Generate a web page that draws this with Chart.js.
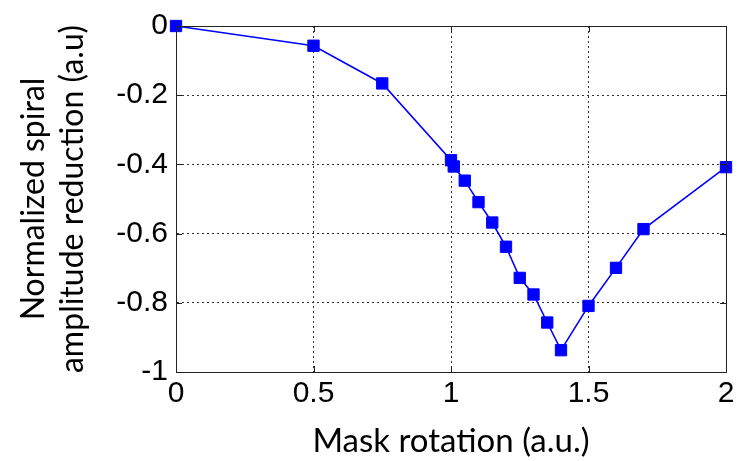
<!DOCTYPE html>
<html>
<head>
<meta charset="utf-8">
<script src="https://cdn.jsdelivr.net/npm/chart.js@4.4.1/dist/chart.umd.min.js"></script>
<style>
  html, body { margin: 0; padding: 0; background: #fff; }
  #wrap { width: 748px; height: 461px; }
</style>
</head>
<body>
<div id="wrap"><canvas id="myChart"></canvas></div>
<script>
// mask rotation (a.u.) and the normalized amplitude reduction at each step
const rotation = [0, 0.5, 0.75, 1.0, 1.01, 1.05, 1.1, 1.15, 1.2, 1.25, 1.3, 1.35, 1.4, 1.5, 1.6, 1.7, 2.0];
const reduction = [0, -0.057, -0.166, -0.388, -0.406, -0.447, -0.509, -0.568, -0.638, -0.728, -0.776, -0.857, -0.937, -0.809, -0.699, -0.587, -0.408];

const xTicks = [0, 0.5, 1, 1.5, 2];
const yTicks = [0, -0.2, -0.4, -0.6, -0.8, -1];

const tickFont = { family: "'Liberation Sans', Arial, sans-serif", size: 30 };
const titleFamily = "Lato, 'Open Sans', sans-serif";

// closed box with short inward ticks on all four sides
const boxPlugin = {
  id: 'box',
  afterDatasetsDraw(chart) {
    const { ctx, chartArea: a, scales } = chart;
    ctx.save();
    ctx.strokeStyle = '#222';
    ctx.lineWidth = 1;
    ctx.beginPath();
    xTicks.forEach(v => {
      const px = Math.round(scales.x.getPixelForValue(v)) + 0.5;
      ctx.moveTo(px, a.bottom); ctx.lineTo(px, a.bottom - 6);
      ctx.moveTo(px, a.top); ctx.lineTo(px, a.top + 6);
    });
    yTicks.forEach(v => {
      const py = Math.round(scales.y.getPixelForValue(v)) + 0.5;
      ctx.moveTo(a.left, py); ctx.lineTo(a.left + 6, py);
      ctx.moveTo(a.right, py); ctx.lineTo(a.right - 6, py);
    });
    ctx.stroke();
    ctx.strokeRect(Math.round(a.left) + 0.5, Math.round(a.top) + 0.5,
      Math.round(a.right - a.left), Math.round(a.bottom - a.top));
    ctx.restore();
  }
};

new Chart(document.getElementById('myChart'), {
  type: 'line',
  data: {
    datasets: [{
      data: rotation.map((x, i) => ({ x: x, y: reduction[i] })),
      borderColor: '#0000ff',
      backgroundColor: '#0000ff',
      borderWidth: 1.6,
      pointStyle: 'rect',
      pointRadius: 8,
      pointBorderWidth: 1,
      pointBorderColor: '#0000ff',
      tension: 0,
      clip: false
    }]
  },
  options: {
    responsive: true,
    maintainAspectRatio: false,
    animation: false,
    layout: { padding: { top: 22, right: 22, left: 0, bottom: 0 } },
    plugins: { legend: { display: false }, tooltip: { enabled: false } },
    scales: {
      x: {
        type: 'linear',
        min: 0,
        max: 2,
        afterBuildTicks: s => { s.ticks = xTicks.map(v => ({ value: v })); },
        afterFit: s => { s.height = 89; },
        ticks: {
          font: tickFont,
          color: '#000',
          padding: 4,
          maxRotation: 0,
          callback: v => String(v)
        },
        grid: {
          color: '#333',
          lineWidth: 1,
          drawTicks: false
        },
        border: { display: true, color: '#333', dash: [2, 3] },
        title: {
          display: true,
          text: 'Mask rotation (a.u.)',
          font: { family: titleFamily, size: 33 },
          color: '#000',
          padding: { top: 0, bottom: 0 }
        }
      },
      y: {
        type: 'linear',
        min: -1,
        max: 0,
        afterBuildTicks: s => { s.ticks = yTicks.map(v => ({ value: v })); },
        afterFit: s => { s.width = 176; },
        ticks: {
          font: tickFont,
          color: '#000',
          padding: 8,
          callback: v => String(v)
        },
        grid: {
          color: '#333',
          lineWidth: 1,
          drawTicks: false
        },
        border: { display: true, color: '#333', dash: [2, 3] },
        title: {
          display: true,
          text: ['Normalized spiral', 'amplitude reduction (a.u)'],
          font: { family: titleFamily, size: 32, lineHeight: 1.22 },
          color: '#000',
          padding: { top: 14, bottom: 0 }
        }
      }
    }
  },
  plugins: [boxPlugin]
});
</script>
</body>
</html>
